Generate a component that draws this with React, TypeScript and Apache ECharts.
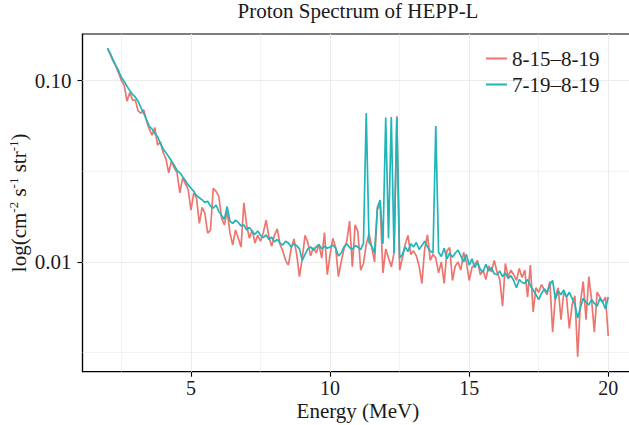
import React, { useEffect, useRef } from "react";
import * as echarts from "echarts";

const TITLE = "Proton Spectrum of HEPP-L";
const X_NAME = "Energy (MeV)";
const SERIES_NAMES = ["8-15–8-19", "7-19–8-19"];
const COLORS = ["#EC766F", "#1FB5B9"];

// energy grid: 2.0 .. 20.0 MeV, step 0.1
const E_START = 2.0;
const E_STEP = 0.1;

// 8-15–8-19 (rows of 10 starting at 2.0, 3.0, ... MeV)
const flux0815: number[] = [
  0.150, 0.139, 0.128, 0.120, 0.110, 0.100, 0.094, 0.077, 0.086, 0.078,
  0.078, 0.068, 0.066, 0.069, 0.060, 0.054, 0.050, 0.055, 0.044, 0.046,
  0.040, 0.037, 0.031, 0.036, 0.033, 0.031, 0.024, 0.029, 0.027, 0.025,
  0.0193, 0.0240, 0.0225, 0.0163, 0.0200, 0.0185, 0.0144, 0.0150, 0.0255, 0.0245,
  0.0230, 0.0175, 0.0160, 0.0190, 0.0145, 0.0124, 0.0150, 0.0135, 0.0121, 0.0212,
  0.0160, 0.0135, 0.0150, 0.0127, 0.0140, 0.0130, 0.0145, 0.0170, 0.0138, 0.0122,
  0.0140, 0.0152, 0.0125, 0.0115, 0.0102, 0.0096, 0.0118, 0.0134, 0.0110, 0.0083,
  0.0105, 0.0140, 0.0128, 0.0108, 0.0120, 0.0112, 0.0125, 0.0105, 0.0145, 0.0085,
  0.0110, 0.0135, 0.0120, 0.0083, 0.0100, 0.0118, 0.0130, 0.0168, 0.0094, 0.0160,
  0.0147, 0.0090, 0.0098, 0.0125, 0.0143, 0.0120, 0.0100, 0.0195, 0.0205, 0.0087,
  0.0118, 0.0105, 0.0094, 0.0112, 0.0635, 0.0090, 0.0105, 0.0125, 0.0140, 0.0110,
  0.0115, 0.0108, 0.0095, 0.0076, 0.0118, 0.0141, 0.0102, 0.0110, 0.0105, 0.0087,
  0.0100, 0.0076, 0.0115, 0.0120, 0.0079, 0.0095, 0.0100, 0.0090, 0.0113, 0.0100,
  0.0079, 0.0093, 0.0097, 0.0102, 0.0085, 0.0090, 0.0080, 0.0095, 0.0088, 0.0102,
  0.0088, 0.0080, 0.0057, 0.0098, 0.0083, 0.0090, 0.0085, 0.0079, 0.0092, 0.0082,
  0.0090, 0.0064, 0.0096, 0.0053, 0.0072, 0.0068, 0.0075, 0.0070, 0.0066, 0.0078,
  0.0041, 0.0065, 0.0072, 0.0048, 0.0068, 0.0064, 0.0043, 0.0058, 0.0065, 0.0030,
  0.0060, 0.0078, 0.0048, 0.0083, 0.0062, 0.0041, 0.0068, 0.0064, 0.0060, 0.0064,
  0.0039,
];

// 7-19–8-19
const flux0719: number[] = [
  0.151, 0.141, 0.130, 0.121, 0.113, 0.104, 0.099, 0.093, 0.088, 0.084,
  0.081, 0.077, 0.071, 0.066, 0.061, 0.056, 0.054, 0.051, 0.049, 0.045,
  0.042, 0.040, 0.038, 0.036, 0.034, 0.032, 0.031, 0.0295, 0.028, 0.0265,
  0.0255, 0.0245, 0.0232, 0.0226, 0.0220, 0.0213, 0.0216, 0.0203, 0.0198, 0.0206,
  0.0190, 0.0180, 0.0172, 0.0202, 0.0168, 0.0163, 0.0170, 0.0165, 0.0158, 0.0160,
  0.0150, 0.0155, 0.0147, 0.0142, 0.0148, 0.0140, 0.0136, 0.0141, 0.0133, 0.0137,
  0.0129, 0.0133, 0.0127, 0.0124, 0.0130, 0.0127, 0.0121, 0.0126, 0.0123, 0.0118,
  0.0102, 0.0110, 0.0118, 0.0121, 0.0116, 0.0121, 0.0125, 0.0118, 0.0122, 0.0119,
  0.0121, 0.0124, 0.0119, 0.0108, 0.0112, 0.0121, 0.0126, 0.0120, 0.0117, 0.0123,
  0.0121, 0.0117, 0.0127, 0.0662, 0.0128, 0.0122, 0.0112, 0.0200, 0.0219, 0.0126,
  0.0625, 0.0135, 0.0630, 0.0112, 0.0630, 0.0105, 0.0110, 0.0121, 0.0114, 0.0126,
  0.0121, 0.0128, 0.0117, 0.0123, 0.0130, 0.0121, 0.0115, 0.0112, 0.0562, 0.0113,
  0.0107, 0.0119, 0.0104, 0.0112, 0.0106, 0.0112, 0.0116, 0.0108, 0.0100, 0.0110,
  0.0096, 0.0104, 0.0093, 0.0099, 0.0091, 0.0088, 0.0097, 0.0089, 0.0093, 0.0086,
  0.0085, 0.0089, 0.0083, 0.0087, 0.0081, 0.0084, 0.0079, 0.0072, 0.0080, 0.0077,
  0.0076, 0.0080, 0.0074, 0.0070, 0.0066, 0.0062, 0.0067, 0.0071, 0.0068, 0.0075,
  0.0079, 0.0062, 0.0069, 0.0066, 0.0070, 0.0064, 0.0068, 0.0063, 0.0058, 0.0049,
  0.0056, 0.0063, 0.0060, 0.0058, 0.0062, 0.0059, 0.0057, 0.0063, 0.0060, 0.0055,
  0.0064,
];

const X_TICKS = [5, 10, 15, 20];
const X_MINOR = [2.5, 7.5, 12.5, 17.5];
const Y_TICKS = [0.01, 0.1];
const Y_MINOR_EXP = [-2.5, -1.5];
const X_RANGE = [1.1, 20.9];
const Y_RANGE = [0.00248, 0.1807];

const FONT = "Liberation Serif";
const TXT = "#1a1a1a";

export default function App() {
  const ref = useRef<HTMLDivElement>(null);
  useEffect(() => {
    if (!ref.current) return;
    const chart = echarts.init(ref.current, null, { renderer: "svg" });
    const lg = (v: number) => Math.log10(v);
    const toPts = (arr: number[]) =>
      arr.map((v, i) => [+(E_START + i * E_STEP).toFixed(1), lg(v)]);

    const gridLines = [
      ...X_TICKS.map((x) => ({ xAxis: x, lineStyle: { width: 1.1 } })),
      ...X_MINOR.map((x) => ({ xAxis: x, lineStyle: { width: 0.6 } })),
      ...Y_TICKS.map((y) => ({ yAxis: lg(y), lineStyle: { width: 1.1 } })),
      ...Y_MINOR_EXP.map((e) => ({ yAxis: e, lineStyle: { width: 0.6 } })),
    ];

    chart.setOption({
      animation: false,
      backgroundColor: "#ffffff",
      title: {
        text: TITLE,
        left: 358,
        top: 0,
        padding: 0,
        textAlign: "center",
        textStyle: { fontFamily: FONT, fontSize: 21, fontWeight: "normal", color: TXT },
      },
      legend: {
        orient: "vertical",
        left: 486,
        top: 48,
        padding: 0,
        itemGap: 5,
        itemWidth: 21,
        itemHeight: 2,
        icon: "rect",
        data: SERIES_NAMES,
        textStyle: { fontFamily: FONT, fontSize: 21, color: TXT, lineHeight: 21 },
      },
      grid: {
        left: 82.5,
        top: 34,
        width: 550.8,
        height: 337.7,
        show: true,
        borderColor: "#000",
        borderWidth: 1.2,
        backgroundColor: "transparent",
        containLabel: false,
        outerBoundsMode: "none",
      },
      xAxis: {
        type: "value",
        min: X_RANGE[0],
        max: X_RANGE[1],
        name: X_NAME,
        nameLocation: "middle",
        nameGap: 31,
        nameMoveOverlap: false,
        nameTextStyle: { fontFamily: FONT, fontSize: 21, color: TXT, verticalAlign: "top", lineHeight: 16 },
        axisLine: { show: true, lineStyle: { color: "#000", width: 1.2 } },
        axisTick: { show: true, customValues: X_TICKS, length: 5, lineStyle: { color: "#000", width: 1.1 } },
        axisLabel: {
          customValues: X_TICKS,
          margin: 9,
          lineHeight: 15,
          fontFamily: FONT,
          fontSize: 20,
          color: TXT,
        },
        splitLine: { show: false },
      },
      yAxis: {
        type: "value",
        min: lg(Y_RANGE[0]),
        max: lg(Y_RANGE[1]),
        name: "{n|log(cm}{s|-2}{n| s}{s|-1}{n| str}{s|-1}{n|)}",
        nameLocation: "middle",
        nameGap: 52,
        nameMoveOverlap: false,
        nameTextStyle: {
          fontFamily: FONT,
          fontSize: 21,
          color: TXT,
          rich: {
            n: { fontFamily: FONT, fontSize: 21, color: TXT, lineHeight: 24 },
            s: { fontFamily: FONT, fontSize: 13, color: TXT, verticalAlign: "top", lineHeight: 14 },
          },
        },
        axisLine: { show: true, lineStyle: { color: "#000", width: 1.2 } },
        axisTick: { show: true, customValues: Y_TICKS.map(lg), length: 5, lineStyle: { color: "#000", width: 1.1 } },
        axisLabel: {
          customValues: Y_TICKS.map(lg),
          margin: 11,
          fontFamily: FONT,
          fontSize: 21,
          color: TXT,
          formatter: (v: number) => Math.pow(10, v).toFixed(2),
        },
        splitLine: { show: false },
      },
      series: [
        {
          name: SERIES_NAMES[0],
          type: "line",
          data: toPts(flux0815),
          showSymbol: false,
          symbol: "none",
          color: COLORS[0],
          lineStyle: { color: COLORS[0], width: 1.7 },
          z: 3,
          markLine: {
            silent: true,
            symbol: "none",
            z: 1,
            label: { show: false },
            lineStyle: { color: "#EBEBEB", type: "solid" },
            emphasis: { disabled: true },
            data: gridLines,
          },
        },
        {
          name: SERIES_NAMES[1],
          type: "line",
          data: toPts(flux0719),
          showSymbol: false,
          symbol: "none",
          color: COLORS[1],
          lineStyle: { color: COLORS[1], width: 1.7 },
          z: 4,
        },
      ],
    });
    return () => chart.dispose();
  }, []);
  return (
    <div
      ref={ref}
      style={{ position: "fixed", left: 0, top: 0, width: 629, height: 425 }}
    />
  );
}
